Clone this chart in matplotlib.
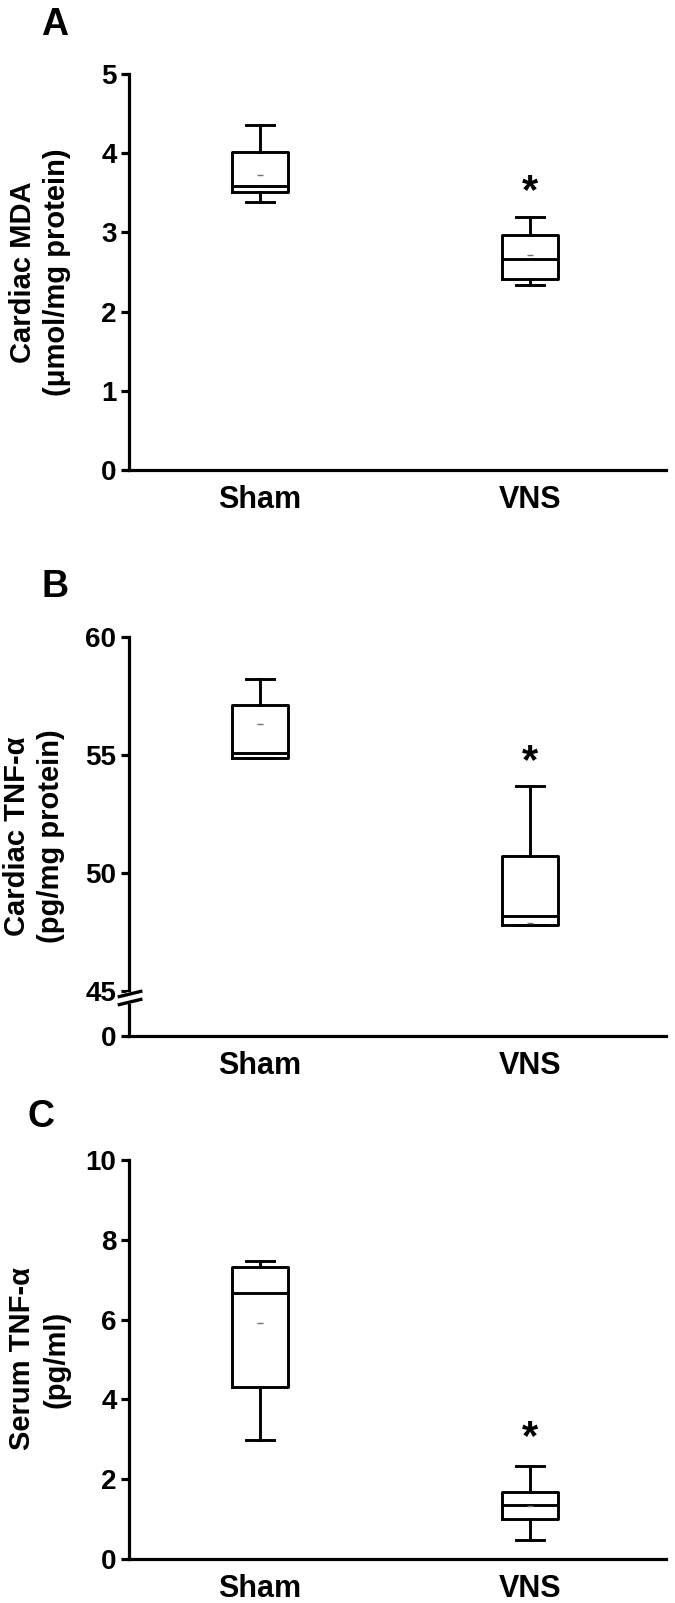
import matplotlib
matplotlib.use('Agg')
import matplotlib.pyplot as plt
from matplotlib import transforms

plt.rcParams['font.family'] = ['Liberation Sans', 'DejaVu Sans']
plt.rcParams['font.weight'] = 'bold'

groups = ['Sham', 'VNS']

# A: cardiac MDA (umol/mg protein)
mda_lo = [3.39, 2.33]
mda_q1 = [3.51, 2.41]
mda_med = [3.58, 2.66]
mda_q3 = [4.02, 2.97]
mda_hi = [4.35, 3.20]
mda_mean = [3.73, 2.71]

# B: cardiac TNF-a (pg/mg protein)
ctnf_lo = [54.86, 47.80]
ctnf_q1 = [54.86, 47.80]
ctnf_med = [55.09, 48.19]
ctnf_q3 = [57.14, 50.71]
ctnf_hi = [58.21, 53.69]
ctnf_mean = [56.33, 47.90]

# C: serum TNF-a (pg/ml)
stnf_lo = [2.98, 0.48]
stnf_q1 = [4.31, 0.99]
stnf_med = [6.66, 1.35]
stnf_q3 = [7.33, 1.68]
stnf_hi = [7.48, 2.32]
stnf_mean = [5.91, 1.33]

# centre of the significance star over VNS
star_y = [3.62, 55.1, 3.26]


def make_stats(lo, q1, med, q3, hi, mean):
    return [dict(label=groups[i], whislo=lo[i], q1=q1[i], med=med[i], q3=q3[i],
                 whishi=hi[i], mean=mean[i], fliers=[]) for i in range(len(groups))]


def draw(ax, stats, star):
    line = dict(color='black', linewidth=2.1)
    ax.bxp(stats, positions=[1, 2], widths=0.207, capwidths=0.104,
           showmeans=True, showfliers=False,
           boxprops=line, whiskerprops=line, capprops=line, medianprops=line,
           meanprops=dict(marker='_', markeredgecolor='0.45', markersize=5,
                          markeredgewidth=1))
    ax.set_xlim(0.515, 2.504)
    for s in ['top', 'right']:
        ax.spines[s].set_visible(False)
    for s in ['left', 'bottom']:
        ax.spines[s].set_linewidth(2.3)
    ax.tick_params(axis='y', length=6, width=2.3, pad=3, labelsize=20)
    ax.tick_params(axis='x', length=0, pad=11, labelsize=22)
    ax.set_xticks([1, 2])
    ax.set_xticklabels(groups)
    # '*' glyph sits high in its box, so nudge it down a little
    ax.annotate('*', (2, star), xytext=(0, -9), textcoords='offset pixels',
                ha='center', va='center', fontsize=30)


fig = plt.figure(figsize=(6.75, 16.03), dpi=100)
H = 1603.0
W = 675.0

axA = fig.add_axes([129 / W, 1 - 470 / H, 537 / W, 396 / H])
draw(axA, make_stats(mda_lo, mda_q1, mda_med, mda_q3, mda_hi, mda_mean), star_y[0])
axA.set_ylim(0, 5)
axA.set_yticks([0, 1, 2, 3, 4, 5])

axB = fig.add_axes([129 / W, 1 - 1036 / H, 537 / W, 399 / H])
draw(axB, make_stats(ctnf_lo, ctnf_q1, ctnf_med, ctnf_q3, ctnf_hi, ctnf_mean), star_y[1])
axB.set_ylim(43.1, 60)
axB.set_yticks([43.1, 45, 50, 55, 60])
axB.set_yticklabels(['0', '45', '50', '55', '60'])
# axis break marks just under 45
tr = transforms.blended_transform_factory(axB.transAxes, axB.transData)
axB.plot([0, 0], [44.60, 44.82], color='white', lw=4, transform=tr,
         clip_on=False, zorder=5)
for yb in [44.88, 44.54]:
    axB.plot([-0.018, 0.022], [yb - 0.11, yb + 0.11], color='black', lw=2.4,
             transform=tr, clip_on=False, zorder=6)

axC = fig.add_axes([129 / W, 1 - 1559 / H, 537 / W, 399 / H])
draw(axC, make_stats(stnf_lo, stnf_q1, stnf_med, stnf_q3, stnf_hi, stnf_mean), star_y[2])
axC.set_ylim(0, 10)
axC.set_yticks([0, 2, 4, 6, 8, 10])

fig.text(40 / W, 1 - 272 / H, 'Cardiac MDA\n(\u03bcmol/mg protein)', rotation=90,
         ha='center', va='center', fontsize=21, linespacing=1.3)
fig.text(34 / W, 1 - 836 / H, 'Cardiac TNF-\u03b1\n(pg/mg protein)', rotation=90,
         ha='center', va='center', fontsize=21, linespacing=1.3)
fig.text(39 / W, 1 - 1359 / H, 'Serum TNF-\u03b1\n(pg/ml)', rotation=90,
         ha='center', va='center', fontsize=21, linespacing=1.3)

fig.text(55 / W, 1 - 25 / H, 'A', ha='center', va='center', fontsize=27)
fig.text(55 / W, 1 - 587 / H, 'B', ha='center', va='center', fontsize=27)
fig.text(41 / W, 1 - 1117 / H, 'C', ha='center', va='center', fontsize=27)

fig.savefig('out.png', dpi=100)
